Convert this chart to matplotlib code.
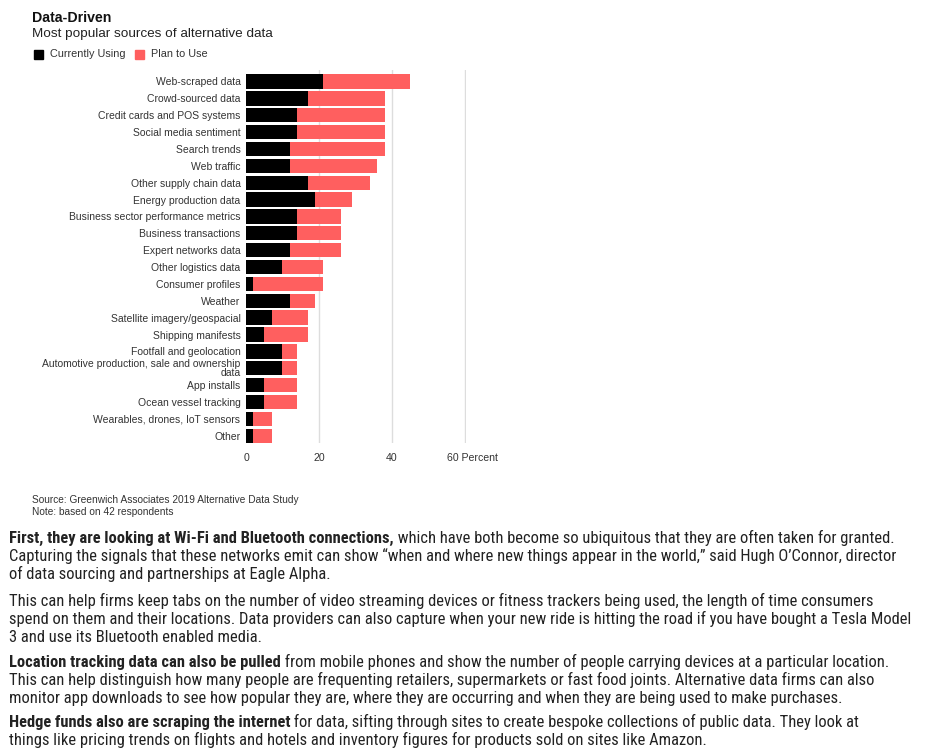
import matplotlib
matplotlib.use("Agg")
import matplotlib.pyplot as plt
import matplotlib.transforms as mtransforms
from matplotlib import font_manager

categories = [
    "Web-scraped data", "Crowd-sourced data", "Credit cards and POS systems",
    "Social media sentiment", "Search trends", "Web traffic",
    "Other supply chain data", "Energy production data",
    "Business sector performance metrics", "Business transactions",
    "Expert networks data", "Other logistics data", "Consumer profiles",
    "Weather", "Satellite imagery/geospacial", "Shipping manifests",
    "Footfall and geolocation",
    "Automotive production, sale and ownership\ndata",
    "App installs", "Ocean vessel tracking", "Wearables, drones, IoT sensors",
    "Other",
]
currently_using = [21, 17, 14, 14, 12, 12, 17, 19, 14, 14, 12, 10, 2, 12, 7, 5, 10, 10, 5, 5, 2, 2]
plan_to_use = [24, 21, 24, 24, 26, 24, 17, 10, 12, 12, 14, 11, 19, 7, 10, 12, 4, 4, 9, 9, 5, 5]
xticks = [0, 20, 40, 60]
xtick_labels = ["0", "20", "40", "60 Percent"]

names = {f.name for f in font_manager.fontManager.ttflist}
sans = "Liberation Sans" if "Liberation Sans" in names else "DejaVu Sans"
narrow = sans
for cand in ["Liberation Sans Narrow", "Arial Narrow", "Roboto Condensed", "Open Sans Condensed"]:
    if cand in names:
        narrow = cand
        break
plt.rcParams["font.family"] = [sans, "DejaVu Sans"]

BLACK = "#000000"
RED = "#FF5F5F"
W, H = 931, 754
fig = plt.figure(figsize=(W / 100, H / 100), dpi=100)
fig.patch.set_facecolor("white")

def fx(px):
    return px / W

def fy(py):
    return 1 - py / H

ax = fig.add_axes([fx(246), fy(443), fx(466) - fx(246), fy(70) - fy(443)])
y = list(range(len(categories)))
ax.barh(y, currently_using, height=0.85, color=BLACK, zorder=3)
ax.barh(y, plan_to_use, left=currently_using, height=0.85, color=RED, zorder=3)
ax.set_ylim(len(categories) - 1 + 0.43, -0.68)
ax.set_xlim(0, 60.3)
ax.tick_params(axis="both", length=0, pad=4)
ax.tick_params(axis="x", pad=7)
ax.set_yticks(y)
ax.set_yticklabels(categories, fontsize=7.5, color="#333333", linespacing=0.85)
ax.set_xticks(xticks)
ax.set_xticklabels(xtick_labels, fontsize=7.6, color="#333333")
last = ax.xaxis.get_major_ticks()[-1].label1
last.set_transform(last.get_transform() + mtransforms.ScaledTranslation(8 / 100, 0, fig.dpi_scale_trans))
for s in ax.spines.values():
    s.set_visible(False)
for xv in xticks[1:]:
    ax.axvline(xv, color="#DDDDDD", lw=1, zorder=1)

# Title, subtitle, legend
fig.text(fx(32), fy(18), "Data-Driven", fontsize=10.2, fontweight="bold", va="center", ha="left", color="#111111")
fig.text(fx(32), fy(34), "Most popular sources of alternative data", fontsize=9.7, va="center", ha="left", color="#222222")
fig.patches.append(plt.Rectangle((fx(34), fy(59)), fx(9), fy(50) - fy(59), transform=fig.transFigure, color=BLACK, figure=fig))
fig.text(fx(50), fy(54), "Currently Using", fontsize=7.8, va="center", ha="left", color="#333333")
fig.patches.append(plt.Rectangle((fx(135), fy(59)), fx(9), fy(50) - fy(59), transform=fig.transFigure, color=RED, figure=fig))
fig.text(fx(151), fy(54), "Plan to Use", fontsize=7.8, va="center", ha="left", color="#333333")

# Source / note
fig.text(fx(32), fy(500), "Source: Greenwich Associates 2019 Alternative Data Study", fontsize=7.3, va="center", ha="left", color="#333333")
fig.text(fx(32), fy(512), "Note: based on 42 respondents", fontsize=7.3, va="center", ha="left", color="#333333")

# Article text
paras = [
    (538, "First, they are looking at Wi-Fi and Bluetooth connections,",
     [" which have both become so ubiquitous that they are often taken for granted.",
      "Capturing the signals that these networks emit can show \u201cwhen and where new things appear in the world,\u201d said Hugh O\u2019Connor, director",
      "of data sourcing and partnerships at Eagle Alpha."]),
    (601, "",
     ["This can help firms keep tabs on the number of video streaming devices or fitness trackers being used, the length of time consumers",
      "spend on them and their locations. Data providers can also capture when your new ride is hitting the road if you have bought a Tesla Model",
      "3 and use its Bluetooth enabled media."]),
    (662, "Location tracking data can also be pulled",
     [" from mobile phones and show the number of people carrying devices at a particular location.",
      "This can help distinguish how many people are frequenting retailers, supermarkets or fast food joints. Alternative data firms can also",
      "monitor app downloads to see how popular they are, where they are occurring and when they are being used to make purchases."]),
    (722, "Hedge funds also are scraping the internet",
     [" for data, sifting through sites to create bespoke collections of public data. They look at",
      "things like pricing trends on flights and hotels and inventory figures for products sold on sites like Amazon."]),
]
FS = 11
LINE = 18.2
TXT = "#222222"
para_texts = []
line_groups = []
for y0, bold, lines in paras:
    for i, line in enumerate(lines):
        yy = fy(y0 + 5 + i * LINE)
        if i == 0 and bold:
            bt = fig.text(fx(9), yy, bold, fontsize=FS, fontweight="bold", family=[narrow, "DejaVu Sans"],
                          va="baseline", ha="left", color=TXT)
            ann = fig.text(0, 0, line, fontsize=FS, family=[narrow, "DejaVu Sans"], color=TXT,
                           va="baseline", ha="left")
            ann._bold_ref = bt
            para_texts += [bt, ann]
            line_groups.append([bt, ann])
        else:
            t = fig.text(fx(9), yy, line, fontsize=FS, family=[narrow, "DejaVu Sans"],
                         va="baseline", ha="left", color=TXT)
            para_texts.append(t)
            line_groups.append([t])

# fit paragraph font size so the widest line matches the reference width
fig.canvas.draw()
r = fig.canvas.get_renderer()
widest = max(sum(t.get_window_extent(r).width for t in g) for g in line_groups)
scale = 897.0 / widest
for t in para_texts:
    t.set_fontsize(FS * scale)
fig.canvas.draw()
for t in para_texts:
    if hasattr(t, "_bold_ref"):
        b = t._bold_ref
        e = b.get_window_extent(r)
        t.set_position((e.x1 / W, b.get_position()[1]))

fig.savefig("out.png", dpi=100, facecolor="white")
